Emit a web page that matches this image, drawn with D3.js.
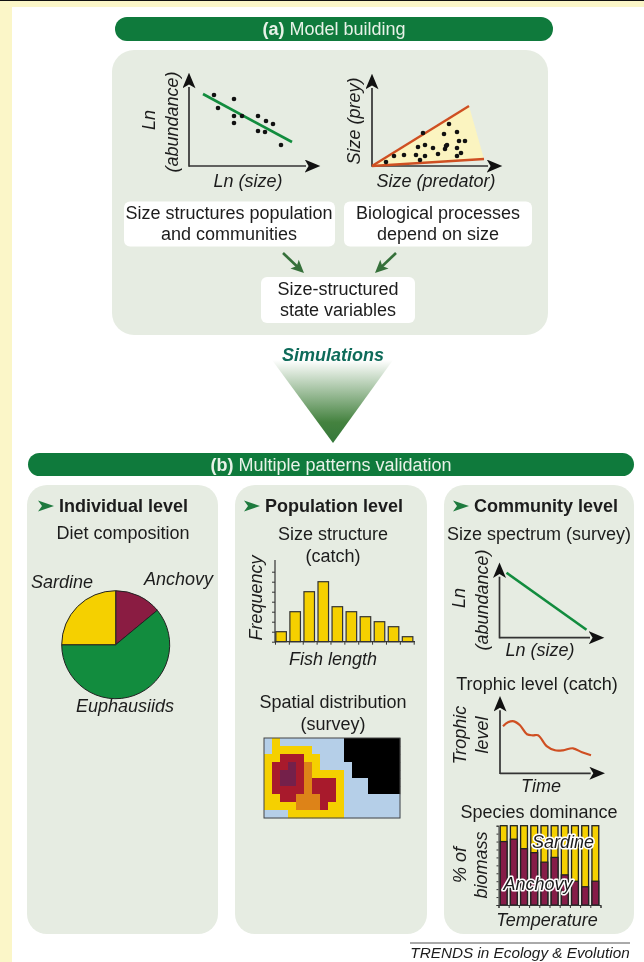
<!DOCTYPE html>
<html>
<head>
<meta charset="utf-8">
<script src="https://cdn.jsdelivr.net/npm/d3@7"></script>
<style>
  html, body { margin: 0; padding: 0; background: #fff; overflow: hidden; }
  svg { display: block; filter: blur(0.35px); }
  text { font-family: "Liberation Sans", Arial, sans-serif; fill: #1c1c1c; }
</style>
</head>
<body>
<div id="chart"></div>
<script>
const abundanceX = [25, 29, 45, 45, 45, 53, 69, 77, 84, 69, 76, 92];
const abundanceY = [71, 58, 67, 50, 43, 50, 50, 45, 42, 35, 34, 21];
const abundanceFit = [[14, 72], [103, 24]];

const preyX = [14, 22, 32, 44, 48, 53, 46, 53, 61, 66, 51, 72, 77, 85, 87, 93, 73, 74, 75, 85, 89, 85];
const preyY = [4, 10, 11, 11, 6, 10, 19, 21, 18, 12, 33, 32, 42, 34, 25, 25, 17, 20, 21, 18, 13, 10];
const preyUpper = [[0, 0], [97, 60]];
const preyLower = [[0, 0], [112, 7]];

// pie
const dietLabels = ["Anchovy", "Euphausiids", "Sardine"];
const dietValues = [14, 61, 25];
const dietColors = ["#8a1c42", "#128c3e", "#f5d000"];

// histogram
const lengthBins = [1, 2, 3, 4, 5, 6, 7, 8, 9, 10];
const lengthFreq = [1, 3, 5, 6, 3.5, 3, 2.5, 2, 1.5, 0.5];

// spatial map, one char per cell: b blue, y yellow, r red, o orange, p purple, k black
const mapRows = [
  "bybbbbbbbbkkkkkkk",
  "byyyyybbbbkkkkkkk",
  "yyrrryybbbkkkkkkk",
  "yrrproybbbbkkkkkk",
  "yrpproyyyybkkkkkk",
  "yrpprorrrybbbkkkk",
  "yrrrrorrrybbbkkkk",
  "yyrrooorrybbbbbbb",
  "yyyyoooryybbbbbbb",
  "bbbyyyyyyybbbbbbb"
];
const mapColors = { b: "#b5cfe8", y: "#f5d000", r: "#a81a2c", o: "#dd8318", p: "#74204a", k: "#000000" };

// size spectrum and trophic level
const spectrumLine = [[7, 65], [87, 8]];
const trophicTime = [3, 8, 14, 20, 27, 33, 38, 47, 55, 63, 73, 82, 91];
const trophicLevel = [47, 51, 52, 48, 39, 38, 38, 27, 23, 23, 25, 21, 18];

// species dominance, % anchovy (rest is sardine)
const tempBins = [1, 2, 3, 4, 5, 6, 7, 8, 9, 10];
const anchovyShare = [80, 83, 71, 66, 54, 60, 38, 30, 23, 30];

const GREEN = "#0f7a3c";
const PANEL = "#e6ece2";
const width = 644;
const height = 962;

const svg = d3.select("#chart").append("svg").attr("width", width).attr("height", height);
const defs = svg.append("defs");

defs
  .append("marker")
  .attr("id", "head")
  .attr("viewBox", "0 -5 12 10")
  .attr("refX", 1)
  .attr("markerUnits", "userSpaceOnUse")
  .attr("markerWidth", 16)
  .attr("markerHeight", 13)
  .attr("orient", "auto")
  .append("path")
  .attr("d", "M0,-5L12,0L0,5L3,0Z")
  .attr("fill", "#111");

const grad = defs
  .append("linearGradient")
  .attr("id", "fade")
  .attr("x1", 0)
  .attr("y1", 0)
  .attr("x2", 0)
  .attr("y2", 1);
grad.append("stop").attr("offset", 0).attr("stop-color", "#ffffff");
grad.append("stop").attr("offset", 0.75).attr("stop-color", "#44823f");
grad.append("stop").attr("offset", 1).attr("stop-color", "#35783a");

// page frame
svg.append("rect").attr("width", 12).attr("height", height).attr("fill", "#fbf6c8");
svg.append("rect").attr("width", width).attr("height", 7).attr("fill", "#fbf6c8");
svg.append("rect").attr("width", width).attr("height", 1).attr("fill", "#111");

const box = (x, y, w, h, r, fill) =>
  svg
    .append("rect")
    .attr("x", x)
    .attr("y", y)
    .attr("width", w)
    .attr("height", h)
    .attr("rx", r)
    .attr("fill", fill);

const label = (txt, x, y, opts = {}) => {
  const t = svg
    .append("text")
    .attr("x", x)
    .attr("y", y)
    .attr("text-anchor", opts.anchor || "middle")
    .attr("font-size", opts.size || 18)
    .attr("font-style", opts.italic ? "italic" : null)
    .attr("font-weight", opts.bold ? "bold" : null)
    .text(txt);
  if (opts.fill) t.style("fill", opts.fill);
  if (opts.rotate) t.attr("transform", `rotate(-90,${x},${y})`);
  if (opts.halo) {
    t.style("paint-order", "stroke")
      .style("stroke", "#fff")
      .style("stroke-width", 3)
      .style("stroke-linejoin", "round");
  }
  return t;
};

const header = (x, y, w, h, bold, rest) => {
  box(x, y, w, h, h / 2, GREEN);
  const t = svg
    .append("text")
    .attr("x", x + w / 2)
    .attr("y", y + h / 2 + 6)
    .attr("text-anchor", "middle")
    .attr("font-size", 18)
    .style("fill", "#e8f2e8");
  t.append("tspan").attr("font-weight", "bold").text(bold);
  t.append("tspan").text(" " + rest);
};

// two arrow axes from an origin
const arrowAxes = (x0, y0, xLen, yLen) => {
  const g = svg.append("g").attr("transform", `translate(${x0},${y0})`);
  const x = d3.scaleLinear().domain([0, xLen]).range([0, xLen]);
  const y = d3.scaleLinear().domain([0, yLen]).range([0, -yLen]);
  g.append("line")
    .attr("x1", 0)
    .attr("x2", xLen - 15)
    .attr("stroke", "#333")
    .attr("stroke-width", 1.7)
    .attr("marker-end", "url(#head)");
  g.append("line")
    .attr("y1", 0.7)
    .attr("y2", -yLen + 15)
    .attr("stroke", "#333")
    .attr("stroke-width", 1.7)
    .attr("marker-end", "url(#head)");
  return { g, x, y };
};

const straight = (plot, pts, color, w) =>
  plot.g
    .append("line")
    .attr("x1", plot.x(pts[0][0]))
    .attr("y1", plot.y(pts[0][1]))
    .attr("x2", plot.x(pts[1][0]))
    .attr("y2", plot.y(pts[1][1]))
    .attr("stroke", color)
    .attr("stroke-width", w);

const levelTitle = (txt, x) => {
  svg
    .append("path")
    .attr("transform", `translate(${x},506)`)
    .attr("d", "M0,-5.5L16,0L0,5.5L4,0Z")
    .attr("fill", "#1e7a3e");
  label(txt, x + 21, 512, { bold: true, anchor: "start" });
};

// ---- (a) model building
header(115, 17, 438, 24, "(a)", "Model building");
box(112, 50, 436, 285, 22, PANEL);

const p1 = arrowAxes(189, 166, 132, 94);
straight(p1, abundanceFit, "#128c3e", 2.6);
p1.g
  .selectAll("circle")
  .data(abundanceX)
  .join("circle")
  .attr("cx", (d) => p1.x(d))
  .attr("cy", (d, i) => p1.y(abundanceY[i]))
  .attr("r", 2.3)
  .attr("fill", "#111");
label("Ln", 155, 120, { italic: true, rotate: true });
label("(abundance)", 178, 122, { italic: true, rotate: true });
label("Ln (size)", 248, 187, { italic: true });

const p2 = arrowAxes(372, 166, 131, 93);
p2.g
  .append("path")
  .attr("d", d3.line().x((d) => p2.x(d[0])).y((d) => p2.y(d[1]))([preyUpper[0], preyUpper[1], preyLower[1]]))
  .attr("fill", "#fbf4c0");
straight(p2, preyUpper, "#cf4f22", 2.4);
straight(p2, preyLower, "#cf4f22", 2.4);
p2.g
  .selectAll("circle")
  .data(preyX)
  .join("circle")
  .attr("cx", (d) => p2.x(d))
  .attr("cy", (d, i) => p2.y(preyY[i]))
  .attr("r", 2.3)
  .attr("fill", "#111");
label("Size (prey)", 360, 121, { italic: true, rotate: true });
label("Size (predator)", 436, 187, { italic: true });

box(124, 201.5, 211, 45, 6, "#fff");
box(344, 201.5, 188, 45, 6, "#fff");
box(261, 277, 154, 46, 6, "#fff");
label("Size structures population", 229, 219);
label("and communities", 229, 240);
label("Biological processes", 438, 219);
label("depend on size", 438, 240);
label("Size-structured", 338, 295);
label("state variables", 338, 316);

[[[283, 253], [304, 273]], [[396, 253], [375, 273]]].forEach((a) => {
  const ang = Math.atan2(a[1][1] - a[0][1], a[1][0] - a[0][0]);
  const deg = (ang * 180) / Math.PI;
  svg
    .append("line")
    .attr("x1", a[0][0])
    .attr("y1", a[0][1])
    .attr("x2", a[1][0] - 8 * Math.cos(ang))
    .attr("y2", a[1][1] - 8 * Math.sin(ang))
    .attr("stroke", "#35703a")
    .attr("stroke-width", 2.6);
  svg
    .append("path")
    .attr("transform", `translate(${a[1][0]},${a[1][1]}) rotate(${deg})`)
    .attr("d", "M0,0L-13,-6L-10,0L-13,6Z")
    .attr("fill", "#35703a");
});

// ---- simulations wedge
svg
  .append("path")
  .attr("d", "M272,360L393,360L333,443Z")
  .attr("fill", "url(#fade)");
label("Simulations", 333, 361, { bold: true, italic: true, fill: "#0e6b5a" });

// ---- (b) multiple patterns
header(28, 453, 606, 23, "(b)", "Multiple patterns validation");
box(27, 485, 191, 449, 20, PANEL);
box(235, 485, 192, 449, 20, PANEL);
box(444, 485, 190, 449, 20, PANEL);

// individual level
levelTitle("Individual level", 38);
label("Diet composition", 123, 539);
const pie = d3.pie().sort(null)(dietValues);
const arc = d3.arc().innerRadius(0).outerRadius(54);
svg
  .append("g")
  .attr("transform", "translate(115.7,644.7)")
  .selectAll("path")
  .data(pie)
  .join("path")
  .attr("d", arc)
  .attr("fill", (d, i) => dietColors[i])
  .attr("stroke", "#222")
  .attr("stroke-width", 1);
label(dietLabels[2], 62, 588, { italic: true });
label(dietLabels[0], 178.5, 585, { italic: true });
label(dietLabels[1], 125, 712, { italic: true });

// population level
levelTitle("Population level", 244);
label("Size structure", 333, 540);
label("(catch)", 333, 562);

const histX = d3.scaleBand().domain(lengthBins).range([275, 413.7]).paddingInner(0.25).paddingOuter(0.06);
const histTick = d3.scaleLinear().domain([0, 10]).range([275, 413.7]);
const histY = d3.scaleLinear().domain([0, 7]).range([641.7, 571.7]);
svg
  .append("g")
  .selectAll("rect")
  .data(lengthFreq)
  .join("rect")
  .attr("x", (d, i) => histX(lengthBins[i]))
  .attr("y", (d) => histY(d))
  .attr("width", histX.bandwidth())
  .attr("height", (d) => histY(0) - histY(d))
  .attr("fill", "#f5d000")
  .attr("stroke", "#333")
  .attr("stroke-width", 1.2);
svg
  .append("g")
  .attr("transform", "translate(275,0)")
  .call(d3.axisLeft(histY).ticks(7).tickSize(3).tickFormat(""))
  .call((g) => g.select(".domain").remove())
  .call((g) => g.selectAll("line").attr("stroke", "#333"));
svg
  .append("g")
  .attr("transform", "translate(0,641.7)")
  .call(d3.axisBottom(histTick).ticks(10).tickSize(3).tickFormat(""))
  .call((g) => g.select(".domain").remove())
  .call((g) => g.selectAll("line").attr("stroke", "#333"));
svg.append("line").attr("x1", 275).attr("x2", 275).attr("y1", 560).attr("y2", 642).attr("stroke", "#333").attr("stroke-width", 1.2);
svg.append("line").attr("x1", 275).attr("x2", 415).attr("y1", 641.7).attr("y2", 641.7).attr("stroke", "#333").attr("stroke-width", 1.2);
label("Frequency", 262, 598, { italic: true, rotate: true });
label("Fish length", 333, 665, { italic: true });

label("Spatial distribution", 333, 708);
label("(survey)", 333, 730);
const mapX = d3.scaleBand().domain(d3.range(17)).range([264, 400]);
const mapY = d3.scaleBand().domain(d3.range(10)).range([738, 818]);
svg
  .append("g")
  .selectAll("g")
  .data(mapRows)
  .join("g")
  .attr("transform", (d, i) => `translate(0,${mapY(i)})`)
  .selectAll("rect")
  .data((d) => d.split(""))
  .join("rect")
  .attr("x", (d, i) => mapX(i))
  .attr("width", mapX.bandwidth() + 0.3)
  .attr("height", mapY.bandwidth() + 0.3)
  .attr("fill", (d) => mapColors[d]);
svg
  .append("rect")
  .attr("x", 264)
  .attr("y", 738)
  .attr("width", 136)
  .attr("height", 80)
  .attr("fill", "none")
  .attr("stroke", "#444");

// community level
levelTitle("Community level", 453);
label("Size spectrum (survey)", 539, 540);
const p3 = arrowAxes(499.5, 637.7, 105.5, 76);
straight(p3, spectrumLine, "#128c3e", 2.6);
label("Ln", 465, 598, { italic: true, rotate: true });
label("(abundance)", 488, 600, { italic: true, rotate: true });
label("Ln (size)", 540, 656, { italic: true });

label("Trophic level (catch)", 537, 690);
const p4 = arrowAxes(500, 773.3, 105.7, 78);
p4.g
  .append("path")
  .attr(
    "d",
    d3
      .line()
      .x((d) => p4.x(d))
      .y((d, i) => p4.y(trophicLevel[i]))
      .curve(d3.curveCatmullRom)(trophicTime)
  )
  .attr("fill", "none")
  .attr("stroke", "#cf4f22")
  .attr("stroke-width", 2.2);
label("Trophic", 466, 735, { italic: true, rotate: true });
label("level", 488, 735, { italic: true, rotate: true });
label("Time", 541, 792, { italic: true });

label("Species dominance", 539, 818);
const domX = d3.scaleBand().domain(tempBins).range([498.5, 600.5]).paddingInner(0.33).paddingOuter(0.17);
const domTick = d3.scaleLinear().domain([0, 10]).range([498.5, 600.5]);
const domY = d3.scaleLinear().domain([0, 100]).range([905, 825.7]);
const domBars = svg.append("g").selectAll("g").data(anchovyShare).join("g");
domBars
  .append("rect")
  .attr("x", (d, i) => domX(tempBins[i]))
  .attr("y", domY(100))
  .attr("width", domX.bandwidth())
  .attr("height", domY(0) - domY(100))
  .attr("fill", "#f5d000")
  .attr("stroke", "#222")
  .attr("stroke-width", 1.3);
domBars
  .append("rect")
  .attr("x", (d, i) => domX(tempBins[i]))
  .attr("y", (d) => domY(d))
  .attr("width", domX.bandwidth())
  .attr("height", (d) => domY(0) - domY(d))
  .attr("fill", "#861c48")
  .attr("stroke", "#222")
  .attr("stroke-width", 1.3);
svg
  .append("g")
  .attr("transform", "translate(498.5,0)")
  .call(d3.axisLeft(domY).ticks(10).tickSize(2).tickFormat(""))
  .call((g) => g.selectAll("line").attr("stroke", "#333"))
  .call((g) => g.select(".domain").attr("stroke", "#333"));
svg
  .append("g")
  .attr("transform", "translate(0,905)")
  .call(d3.axisBottom(domTick).ticks(10).tickSize(3).tickFormat(""))
  .call((g) => g.selectAll("line").attr("stroke", "#333"))
  .call((g) => g.select(".domain").attr("stroke", "#333"));
label("Sardine", 563, 848, { italic: true, halo: true });
label("Anchovy", 538, 890, { italic: true, halo: true });
label("% of", 466, 865, { italic: true, rotate: true });
label("biomass", 487, 865, { italic: true, rotate: true });
label("Temperature", 547, 926, { italic: true });

// credit
svg.append("line").attr("x1", 410).attr("x2", 630).attr("y1", 943).attr("y2", 943).attr("stroke", "#555");
label("TRENDS in Ecology & Evolution", 520, 958, { italic: true, size: 15.3 });
</script>
</body>
</html>
